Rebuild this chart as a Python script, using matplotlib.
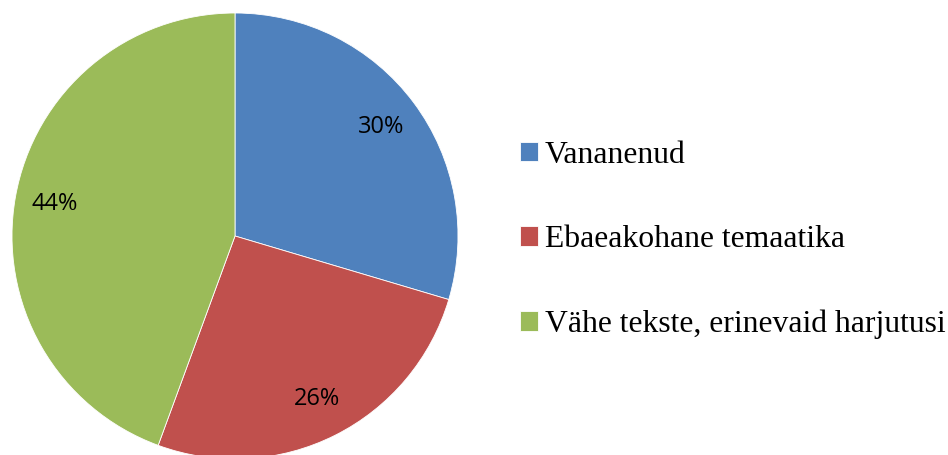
import numpy as np
import matplotlib.pyplot as plt

# Andmed
categories = ["Vananenud", "Ebaeakohane temaatika", "Vähe tekste, erinevaid harjutusi"]
shares = [29.6, 26.0, 44.4]
colors = ["#4F81BD", "#C0504D", "#9BBB59"]

fig = plt.figure(figsize=(9.48, 4.55), dpi=100)
# pirukas: keskpunkt ~ (235, 236) px, raadius ~223 px
ax = fig.add_axes([12 / 948, -4 / 455, 446 / 948, 446 / 455])

wedges, texts, autotexts = ax.pie(
    shares,
    colors=colors,
    startangle=90,
    counterclock=False,
    autopct="%.0f%%",
    pctdistance=0.82,
    wedgeprops=dict(edgecolor="white", linewidth=0.6),
    textprops=dict(fontsize=17, family="Open Sans", color="black"),
)
ax.set_xlim(-1, 1)
ax.set_ylim(-1, 1)
ax.set_aspect("equal")
ax.axis("off")

fig.legend(
    wedges,
    categories,
    loc="center left",
    bbox_to_anchor=(520 / 948, 1 - 240 / 455),
    frameon=False,
    prop=dict(family="Liberation Serif", size=22.8),
    handlelength=0.56,
    handleheight=0.56,
    handletextpad=0.23,
    labelspacing=1.75,
    borderpad=0,
    borderaxespad=0,
)

fig.savefig("out.png", dpi=100)
